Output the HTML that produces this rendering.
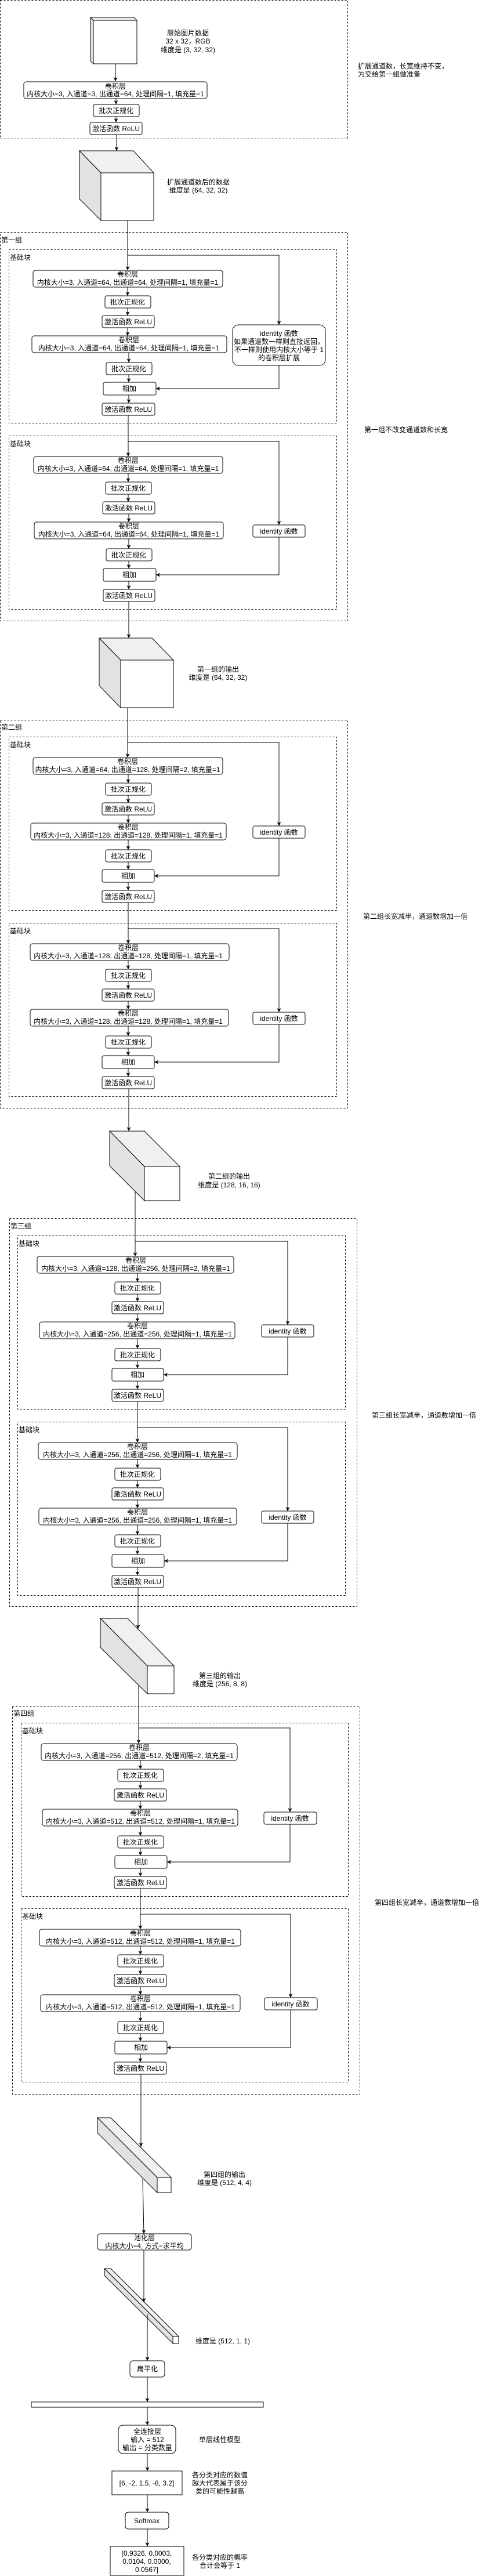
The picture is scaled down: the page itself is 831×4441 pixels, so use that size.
<!DOCTYPE html>
<html><head><meta charset="utf-8"><style>
html,body{margin:0;padding:0;background:#fff;}
svg{display:block;}
text{font-family:"Liberation Sans","Noto Sans CJK SC",sans-serif;font-size:12px;fill:#000;}
.m{text-anchor:middle;}
.b{fill:#fff;stroke:#000;stroke-width:1;}
.d{fill:none;stroke:#000;stroke-width:1;stroke-dasharray:3,3;}
.l{fill:none;stroke:#000;stroke-width:1;marker-end:url(#a);}
.n{fill:none;stroke:#000;stroke-width:1;}
.t{fill:#f0f0f0;stroke:#000;stroke-width:1;}
.s{fill:#e2e2e2;stroke:#000;stroke-width:1;}
</style></head><body>
<svg width="831" height="4441" viewBox="0 0 831 4441" xmlns="http://www.w3.org/2000/svg">
<defs><marker id="a" markerWidth="8" markerHeight="8" refX="7" refY="4" orient="auto" markerUnits="userSpaceOnUse"><path d="M0,0.5 L7,4 L0,7.5 L2,4 z" fill="#000"/></marker></defs>

<!-- top -->
<rect class="d" x="0.5" y="0.5" width="599" height="239"/>
<polygon class="t" points="156,30 231,30 236,35 161,35"/>
<polygon class="s" points="156,30 161,35 161,110 156,105"/>
<rect class="b" x="161" y="35" width="75" height="75"/>
<text class="m" x="324" y="61">原始图片数据</text>
<text class="m" x="324" y="75">32 x 32，RGB</text>
<text class="m" x="324" y="90">维度是 (3, 32, 32)</text>
<text x="617" y="118">扩展通道数，长宽维持不变，</text>
<text x="617" y="132">为交给第一组做准备</text>
<path class="l" d="M199,110 V140"/>
<rect class="b" x="41" y="141" width="316" height="29" rx="4"/>
<text class="m" x="199" y="153">卷积层</text>
<text class="m" x="199" y="166">内核大小=3, 入通道=3, 出通道=64, 处理间隔=1, 填充量=1</text>
<path class="l" d="M200,170 V180"/>
<rect class="b" x="161" y="180" width="79" height="21" rx="3"/>
<text class="m" x="200" y="195">批次正规化</text>
<path class="l" d="M200,201 V211"/>
<rect class="b" x="155" y="211" width="90" height="21" rx="3"/>
<text class="m" x="200" y="226">激活函数 ReLU</text>
<path class="l" d="M201,232 V260"/>
<polygon class="t" points="137,260 230,260 265,298 174,298"/>
<polygon class="s" points="137,260 174,298 174,380 137,343"/>
<rect class="b" x="174" y="298" width="91" height="82"/>
<text class="m" x="342" y="318">扩展通道数后的数据</text>
<text class="m" x="342" y="332">维度是 (64, 32, 32)</text>

<!-- group 1 -->
<rect class="d" x="0.5" y="400.5" width="599" height="670"/>
<text x="2" y="418">第一组</text>
<text x="628" y="745">第一组不改变通道数和长宽</text>
<path class="l" d="M220,380 V466"/>
<rect class="d" x="15.5" y="430.5" width="565" height="299"/>
<text x="17" y="448">基础块</text>
<path class="l" d="M220,440 H481 V560"/>
<rect class="b" x="57" y="466" width="327" height="29" rx="4"/>
<text class="m" x="220" y="477">卷积层</text>
<text class="m" x="220" y="491">内核大小=3, 入通道=64, 出通道=64, 处理间隔=1, 填充量=1</text>
<path class="l" d="M220,495 V510"/>
<rect class="b" x="181" y="510" width="79" height="21" rx="3"/><text class="m" x="220" y="525">批次正规化</text>
<path class="l" d="M220,531 V544"/>
<rect class="b" x="176" y="544" width="90" height="21" rx="3"/><text class="m" x="221" y="559">激活函数 ReLU</text>
<path class="l" d="M220,565 V579"/>
<rect class="b" x="55" y="579" width="336" height="29" rx="4"/>
<text class="m" x="222" y="590">卷积层</text>
<text class="m" x="222" y="604">内核大小=3, 入通道=64, 出通道=64, 处理间隔=1, 填充量=1</text>
<path class="l" d="M222,608 V625"/>
<rect class="b" x="183" y="625" width="79" height="21" rx="3"/><text class="m" x="222" y="640">批次正规化</text>
<path class="l" d="M222,646 V659"/>
<rect class="b" x="178" y="659" width="91" height="22" rx="3"/><text class="m" x="223" y="674">相加</text>
<path class="l" d="M222,681 V695"/>
<rect class="b" x="176" y="695" width="91" height="21" rx="3"/><text class="m" x="221" y="710">激活函数 ReLU</text>
<rect class="b" x="401" y="560" width="160" height="70" rx="10"/>
<text class="m" x="481" y="579">identity 函数</text>
<text class="m" x="481" y="593">如果通道数一样则直接返回，</text>
<text class="m" x="481" y="607">不一样则使用内核大小等于 1</text>
<text class="m" x="481" y="621">的卷积层扩展</text>
<path class="l" d="M481,630 V670 H269"/>
<path class="l" d="M221,716 V787"/>
<rect class="d" x="15.5" y="751.5" width="565" height="299"/>
<text x="17" y="769">基础块</text>
<path class="l" d="M221,761 H481 V905"/>
<rect class="b" x="58" y="787" width="326" height="29" rx="4"/>
<text class="m" x="221" y="798">卷积层</text>
<text class="m" x="221" y="812">内核大小=3, 入通道=64, 出通道=64, 处理间隔=1, 填充量=1</text>
<path class="l" d="M221,816 V831"/>
<rect class="b" x="182" y="831" width="79" height="21" rx="3"/><text class="m" x="221" y="846">批次正规化</text>
<path class="l" d="M221,852 V865"/>
<rect class="b" x="177" y="865" width="90" height="21" rx="3"/><text class="m" x="222" y="880">激活函数 ReLU</text>
<path class="l" d="M222,886 V900"/>
<rect class="b" x="59" y="900" width="326" height="29" rx="4"/>
<text class="m" x="222" y="911">卷积层</text>
<text class="m" x="222" y="925">内核大小=3, 入通道=64, 出通道=64, 处理间隔=1, 填充量=1</text>
<path class="l" d="M222,929 V946"/>
<rect class="b" x="183" y="946" width="79" height="21" rx="3"/><text class="m" x="222" y="961">批次正规化</text>
<path class="l" d="M222,967 V980"/>
<rect class="b" x="178" y="980" width="91" height="22" rx="3"/><text class="m" x="223" y="995">相加</text>
<path class="l" d="M222,1002 V1016"/>
<rect class="b" x="178" y="1016" width="89" height="21" rx="3"/><text class="m" x="222" y="1031">激活函数 ReLU</text>
<rect class="b" x="436" y="905" width="90" height="21" rx="3"/><text class="m" x="481" y="920">identity 函数</text>
<path class="l" d="M481,926 V991 H269"/>
<path class="l" d="M222,1037 V1100"/>

<polygon class="t" points="171,1100 262,1100 299,1138 208,1138"/>
<polygon class="s" points="171,1100 208,1138 208,1220 171,1182"/>
<rect class="b" x="208" y="1138" width="91" height="82"/>
<text class="m" x="376" y="1158">第一组的输出</text>
<text class="m" x="376" y="1172">维度是 (64, 32, 32)</text>
<path class="l" d="M220,1220 V1306"/>

<!-- group 2 -->
<rect class="d" x="0.5" y="1241.5" width="599" height="669"/>
<text x="2" y="1258">第二组</text>
<text x="626" y="1584">第二组长宽减半，通道数增加一倍</text>
<rect class="d" x="15.5" y="1270.5" width="565" height="299"/>
<text x="17" y="1288">基础块</text>
<path class="l" d="M220,1280 H481 V1424"/>
<rect class="b" x="57" y="1306" width="327" height="29" rx="4"/>
<text class="m" x="220" y="1317">卷积层</text>
<text class="m" x="220" y="1331">内核大小=3, 入通道=64, 出通道=128, 处理间隔=2, 填充量=1</text>
<path class="l" d="M221,1335 V1350"/>
<rect class="b" x="182" y="1350" width="79" height="21" rx="3"/><text class="m" x="221" y="1365">批次正规化</text>
<path class="l" d="M221,1371 V1384"/>
<rect class="b" x="176" y="1384" width="90" height="21" rx="3"/><text class="m" x="221" y="1399">激活函数 ReLU</text>
<path class="l" d="M221,1405 V1419"/>
<rect class="b" x="53" y="1419" width="337" height="29" rx="4"/>
<text class="m" x="221" y="1430">卷积层</text>
<text class="m" x="221" y="1444">内核大小=3, 入通道=128, 出通道=128, 处理间隔=1, 填充量=1</text>
<path class="l" d="M221,1448 V1465"/>
<rect class="b" x="182" y="1465" width="79" height="21" rx="3"/><text class="m" x="221" y="1480">批次正规化</text>
<path class="l" d="M221,1486 V1499"/>
<rect class="b" x="176" y="1499" width="90" height="22" rx="3"/><text class="m" x="221" y="1514">相加</text>
<path class="l" d="M221,1521 V1535"/>
<rect class="b" x="176" y="1535" width="90" height="21" rx="3"/><text class="m" x="221" y="1550">激活函数 ReLU</text>
<rect class="b" x="436" y="1424" width="90" height="21" rx="3"/><text class="m" x="481" y="1439">identity 函数</text>
<path class="l" d="M481,1445 V1510 H266"/>
<path class="l" d="M221,1556 V1627"/>
<rect class="d" x="15.5" y="1591.5" width="565" height="299"/>
<text x="17" y="1609">基础块</text>
<path class="l" d="M221,1601 H481 V1745"/>
<rect class="b" x="52" y="1627" width="343" height="29" rx="4"/>
<text class="m" x="221" y="1638">卷积层</text>
<text class="m" x="221" y="1652">内核大小=3, 入通道=128, 出通道=128, 处理间隔=1, 填充量=1</text>
<path class="l" d="M221,1656 V1671"/>
<rect class="b" x="182" y="1671" width="79" height="21" rx="3"/><text class="m" x="221" y="1686">批次正规化</text>
<path class="l" d="M221,1692 V1705"/>
<rect class="b" x="176" y="1705" width="90" height="21" rx="3"/><text class="m" x="221" y="1720">激活函数 ReLU</text>
<path class="l" d="M221,1726 V1740"/>
<rect class="b" x="52" y="1740" width="342" height="29" rx="4"/>
<text class="m" x="221" y="1751">卷积层</text>
<text class="m" x="221" y="1765">内核大小=3, 入通道=128, 出通道=128, 处理间隔=1, 填充量=1</text>
<path class="l" d="M221,1769 V1786"/>
<rect class="b" x="182" y="1786" width="79" height="21" rx="3"/><text class="m" x="221" y="1801">批次正规化</text>
<path class="l" d="M221,1807 V1820"/>
<rect class="b" x="176" y="1820" width="90" height="22" rx="3"/><text class="m" x="221" y="1835">相加</text>
<path class="l" d="M221,1842 V1856"/>
<rect class="b" x="176" y="1856" width="90" height="21" rx="3"/><text class="m" x="221" y="1871">激活函数 ReLU</text>
<rect class="b" x="436" y="1745" width="90" height="21" rx="3"/><text class="m" x="481" y="1760">identity 函数</text>
<path class="l" d="M481,1766 V1831 H266"/>
<path class="l" d="M222,1877 V1950"/>

<polygon class="t" points="189,1950 249,1950 310,2011 249,2011"/>
<polygon class="s" points="189,1950 249,2011 249,2070 189,2010"/>
<rect class="b" x="249" y="2011" width="61" height="59"/>
<text class="m" x="395" y="2032">第二组的输出</text>
<text class="m" x="395" y="2047">维度是 (128, 16, 16)</text>
<path class="l" d="M233,2055 V2166"/>

<!-- group 3 -->
<rect class="d" x="16.5" y="2100.5" width="599" height="669"/>
<text x="18" y="2118">第三组</text>
<text x="641" y="2444">第三组长宽减半，通道数增加一倍</text>
<rect class="d" x="30.5" y="2130.5" width="565" height="299"/>
<text x="32" y="2148">基础块</text>
<path class="l" d="M233,2140 H496 V2284"/>
<rect class="b" x="64" y="2166" width="339" height="29" rx="4"/>
<text class="m" x="234" y="2177">卷积层</text>
<text class="m" x="234" y="2191">内核大小=3, 入通道=128, 出通道=256, 处理间隔=2, 填充量=1</text>
<path class="l" d="M237,2195 V2210"/>
<rect class="b" x="198" y="2210" width="79" height="21" rx="3"/><text class="m" x="237" y="2225">批次正规化</text>
<path class="l" d="M237,2231 V2244"/>
<rect class="b" x="193" y="2244" width="89" height="21" rx="3"/><text class="m" x="237" y="2259">激活函数 ReLU</text>
<path class="l" d="M237,2265 V2279"/>
<rect class="b" x="68" y="2279" width="337" height="29" rx="4"/>
<text class="m" x="237" y="2290">卷积层</text>
<text class="m" x="237" y="2304">内核大小=3, 入通道=256, 出通道=256, 处理间隔=1, 填充量=1</text>
<path class="l" d="M237,2308 V2325"/>
<rect class="b" x="198" y="2325" width="79" height="21" rx="3"/><text class="m" x="237" y="2340">批次正规化</text>
<path class="l" d="M237,2346 V2359"/>
<rect class="b" x="193" y="2359" width="89" height="22" rx="3"/><text class="m" x="237" y="2374">相加</text>
<path class="l" d="M237,2381 V2395"/>
<rect class="b" x="193" y="2395" width="89" height="21" rx="3"/><text class="m" x="237" y="2410">激活函数 ReLU</text>
<rect class="b" x="451" y="2284" width="90" height="21" rx="3"/><text class="m" x="496" y="2299">identity 函数</text>
<path class="l" d="M496,2305 V2370 H282"/>
<path class="l" d="M237,2416 V2487"/>
<rect class="d" x="30.5" y="2451.5" width="565" height="299"/>
<text x="32" y="2469">基础块</text>
<path class="l" d="M237,2461 H496 V2605"/>
<rect class="b" x="66" y="2487" width="343" height="29" rx="4"/>
<text class="m" x="237" y="2498">卷积层</text>
<text class="m" x="237" y="2512">内核大小=3, 入通道=256, 出通道=256, 处理间隔=1, 填充量=1</text>
<path class="l" d="M237,2516 V2531"/>
<rect class="b" x="198" y="2531" width="79" height="21" rx="3"/><text class="m" x="237" y="2546">批次正规化</text>
<path class="l" d="M237,2552 V2565"/>
<rect class="b" x="193" y="2565" width="89" height="21" rx="3"/><text class="m" x="237" y="2580">激活函数 ReLU</text>
<path class="l" d="M237,2586 V2600"/>
<rect class="b" x="67" y="2600" width="341" height="29" rx="4"/>
<text class="m" x="237" y="2611">卷积层</text>
<text class="m" x="237" y="2625">内核大小=3, 入通道=256, 出通道=256, 处理间隔=1, 填充量=1</text>
<path class="l" d="M237,2629 V2646"/>
<rect class="b" x="198" y="2646" width="79" height="21" rx="3"/><text class="m" x="237" y="2661">批次正规化</text>
<path class="l" d="M237,2667 V2680"/>
<rect class="b" x="193" y="2680" width="90" height="22" rx="3"/><text class="m" x="238" y="2695">相加</text>
<path class="l" d="M237,2702 V2716"/>
<rect class="b" x="193" y="2716" width="89" height="21" rx="3"/><text class="m" x="237" y="2731">激活函数 ReLU</text>
<rect class="b" x="451" y="2605" width="90" height="21" rx="3"/><text class="m" x="496" y="2620">identity 函数</text>
<path class="l" d="M496,2626 V2691 H283"/>
<path class="l" d="M238,2737 V2808"/>

<polygon class="t" points="173,2790 220,2790 300,2872 254,2872"/>
<polygon class="s" points="173,2790 254,2872 254,2920 173,2840"/>
<rect class="b" x="254" y="2872" width="46" height="48"/>
<text class="m" x="379" y="2893">第三组的输出</text>
<text class="m" x="379" y="2907">维度是 (256, 8, 8)</text>
<path class="l" d="M239,2906 V3006"/>

<!-- group 4 -->
<rect class="d" x="21.5" y="2941.5" width="599" height="669"/>
<text x="23" y="2958">第四组</text>
<text x="646" y="3284">第四组长宽减半，通道数增加一倍</text>
<rect class="d" x="36.5" y="2970.5" width="564" height="299"/>
<text x="38" y="2988">基础块</text>
<path class="l" d="M239,2979 H500 V3124"/>
<rect class="b" x="71" y="3006" width="338" height="29" rx="4"/>
<text class="m" x="240" y="3017">卷积层</text>
<text class="m" x="240" y="3031">内核大小=3, 入通道=256, 出通道=512, 处理间隔=2, 填充量=1</text>
<path class="l" d="M242,3035 V3050"/>
<rect class="b" x="203" y="3050" width="79" height="21" rx="3"/><text class="m" x="242" y="3065">批次正规化</text>
<path class="l" d="M242,3071 V3084"/>
<rect class="b" x="197" y="3084" width="90" height="21" rx="3"/><text class="m" x="242" y="3099">激活函数 ReLU</text>
<path class="l" d="M242,3105 V3119"/>
<rect class="b" x="73" y="3119" width="337" height="29" rx="4"/>
<text class="m" x="242" y="3130">卷积层</text>
<text class="m" x="242" y="3144">内核大小=3, 入通道=512, 出通道=512, 处理间隔=1, 填充量=1</text>
<path class="l" d="M242,3148 V3165"/>
<rect class="b" x="203" y="3165" width="79" height="21" rx="3"/><text class="m" x="242" y="3180">批次正规化</text>
<path class="l" d="M242,3186 V3199"/>
<rect class="b" x="198" y="3199" width="90" height="22" rx="3"/><text class="m" x="243" y="3214">相加</text>
<path class="l" d="M242,3221 V3235"/>
<rect class="b" x="197" y="3235" width="90" height="21" rx="3"/><text class="m" x="242" y="3250">激活函数 ReLU</text>
<rect class="b" x="455" y="3124" width="91" height="21" rx="3"/><text class="m" x="500" y="3139">identity 函数</text>
<path class="l" d="M500,3145 V3210 H288"/>
<path class="l" d="M242,3256 V3326"/>
<rect class="d" x="36.5" y="3290.5" width="564" height="299"/>
<text x="38" y="3308">基础块</text>
<path class="l" d="M242,3300 H501 V3444"/>
<rect class="b" x="68" y="3326" width="347" height="29" rx="4"/>
<text class="m" x="242" y="3337">卷积层</text>
<text class="m" x="242" y="3351">内核大小=3, 入通道=512, 出通道=512, 处理间隔=1, 填充量=1</text>
<path class="l" d="M242,3355 V3370"/>
<rect class="b" x="203" y="3370" width="79" height="21" rx="3"/><text class="m" x="242" y="3385">批次正规化</text>
<path class="l" d="M242,3391 V3404"/>
<rect class="b" x="197" y="3404" width="90" height="21" rx="3"/><text class="m" x="242" y="3419">激活函数 ReLU</text>
<path class="l" d="M242,3425 V3439"/>
<rect class="b" x="70" y="3439" width="344" height="29" rx="4"/>
<text class="m" x="242" y="3450">卷积层</text>
<text class="m" x="242" y="3464">内核大小=3, 入通道=512, 出通道=512, 处理间隔=1, 填充量=1</text>
<path class="l" d="M242,3468 V3485"/>
<rect class="b" x="203" y="3485" width="79" height="21" rx="3"/><text class="m" x="242" y="3500">批次正规化</text>
<path class="l" d="M242,3506 V3519"/>
<rect class="b" x="198" y="3519" width="90" height="22" rx="3"/><text class="m" x="243" y="3534">相加</text>
<path class="l" d="M242,3541 V3555"/>
<rect class="b" x="197" y="3555" width="90" height="21" rx="3"/><text class="m" x="242" y="3570">激活函数 ReLU</text>
<rect class="b" x="456" y="3444" width="91" height="21" rx="3"/><text class="m" x="501" y="3459">identity 函数</text>
<path class="l" d="M501,3465 V3530 H288"/>

<polygon class="t" points="168,3651 191,3651 295,3754 271,3754"/>
<polygon class="s" points="168,3651 271,3754 271,3780 168,3677"/>
<rect class="b" x="271" y="3754" width="24" height="26"/>
<path class="l" d="M243,3576 V3701"/>
<text class="m" x="387" y="3753">第四组的输出</text>
<text class="m" x="387" y="3767">维度是 (512, 4, 4)</text>
<path class="l" d="M246,3757 L248,3851"/>
<rect class="b" x="168" y="3851" width="162" height="28" rx="5"/>
<text class="m" x="249" y="3862">池化层</text>
<text class="m" x="249" y="3876">内核大小=4, 方式=求平均</text>
<polygon class="t" points="180,3911 191,3911 308,4028 298,4028"/>
<polygon class="s" points="180,3911 298,4028 298,4040 180,3923"/>
<rect class="b" x="298" y="4028" width="10" height="12"/>
<path class="l" d="M248,3879 V3969"/>
<path class="l" d="M254,3989 V4070"/>
<text class="m" x="384" y="4040">维度是 (512, 1, 1)</text>
<rect class="b" x="224" y="4070" width="60" height="28" rx="5"/>
<text class="m" x="254" y="4088">扁平化</text>
<path class="l" d="M254,4098 V4141"/>
<rect class="b" x="54" y="4141" width="400" height="9"/>
<path class="l" d="M254,4150 V4181"/>
<rect class="b" x="204" y="4181" width="99" height="49" rx="8"/>
<text class="m" x="254" y="4196">全连接层</text>
<text class="m" x="254" y="4210">输入 = 512</text>
<text class="m" x="254" y="4224">输出 = 分类数量</text>
<text class="m" x="379" y="4210">单层线性模型</text>
<path class="l" d="M254,4230 V4260"/>
<rect class="b" x="193" y="4260" width="121" height="41"/>
<text class="m" x="253" y="4285">[6, -2, 1.5, -8, 3.2]</text>
<text class="m" x="379" y="4271">各分类对应的数值</text>
<text class="m" x="379" y="4285">越大代表属于该分</text>
<text class="m" x="379" y="4299">类的可能性越高</text>
<path class="l" d="M254,4301 V4331"/>
<rect class="b" x="216" y="4331" width="75" height="29" rx="5"/>
<text class="m" x="253" y="4350">Softmax</text>
<path class="l" d="M254,4360 V4390"/>
<rect class="b" x="190" y="4390" width="127" height="50"/>
<text class="m" x="253" y="4406">[0.9326, 0.0003,</text>
<text class="m" x="253" y="4420">0.0104, 0.0000,</text>
<text class="m" x="253" y="4434">0.0567]</text>
<text class="m" x="379" y="4413">各分类对应的概率</text>
<text class="m" x="379" y="4427">合计会等于 1</text>
</svg>
</body></html>
